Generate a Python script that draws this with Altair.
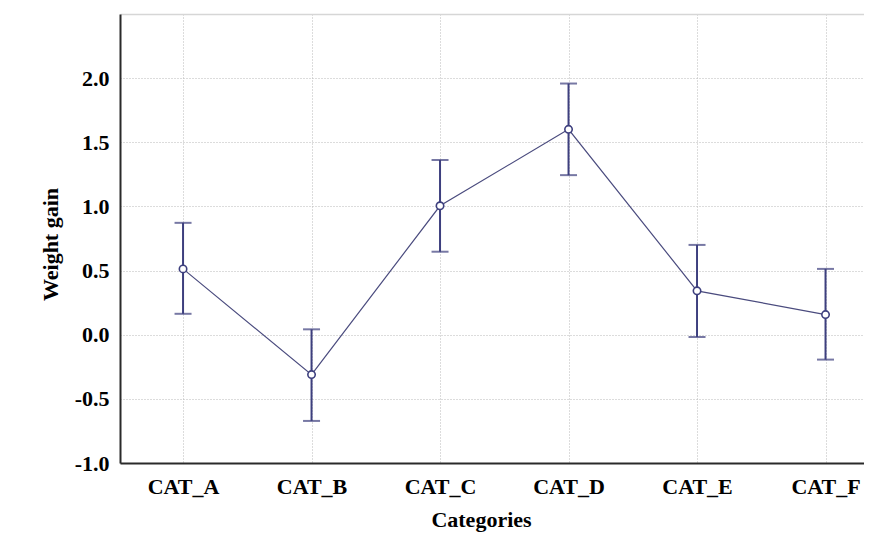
import altair as alt
import pandas as pd

categories = ["CAT_A", "CAT_B", "CAT_C", "CAT_D", "CAT_E", "CAT_F"]
means = [0.513, -0.311, 1.005, 1.601, 0.342, 0.157]
lower = [0.163, -0.672, 0.647, 1.244, -0.018, -0.194]
upper = [0.872, 0.042, 1.362, 1.958, 0.700, 0.513]
y_ticks = [-1.0, -0.5, 0.0, 0.5, 1.0, 1.5, 2.0]

df = pd.DataFrame({"cat": categories, "mean": means, "lo": lower, "hi": upper})

navy = "#3d3f7e"
font = "Liberation Serif"

x_scale = alt.Scale(type="point", padding=0.395, align=0.621)
x_axis = alt.Axis(
    labelAngle=0, grid=True, ticks=False, labelPadding=13,
    titleX=361, titlePadding=12,
)
x_top_axis = alt.Axis(
    orient="top", labels=False, ticks=False, grid=False, title=None,
    domainColor="#d6d6d6", domainWidth=1.5,
)
y_scale = alt.Scale(domain=[-1.0, 2.5], nice=False, zero=False)
y_axis = alt.Axis(
    values=y_ticks, grid=True, ticks=False, labelPadding=11, titlePadding=12,
    titleY=230,
    labelExpr="datum.value < 0 ? '-' + format(-datum.value, '.1f') : format(datum.value, '.1f')",
)

base = alt.Chart(df)

line = base.mark_line(color="#4a4b7e", strokeWidth=1.2).encode(
    x=alt.X("cat:N", sort=categories, title="Categories", scale=x_scale, axis=x_axis),
    y=alt.Y("mean:Q", scale=y_scale, axis=y_axis, title="Weight gain"),
)
bars = base.mark_rule(color=navy, strokeWidth=2).encode(
    x=alt.X("cat:N", sort=categories, axis=None), y="lo:Q", y2="hi:Q"
)
cap_lo = base.mark_tick(color=navy, thickness=2, size=17, orient="horizontal").encode(
    x=alt.X("cat:N", sort=categories, axis=None), y="lo:Q"
)
cap_hi = base.mark_tick(color=navy, thickness=2, size=17, orient="horizontal").encode(
    x=alt.X("cat:N", sort=categories, axis=None), y="hi:Q"
)
pts = base.mark_point(filled=True, fill="white", stroke=navy, strokeWidth=1.6, size=55, opacity=1).encode(
    x=alt.X("cat:N", sort=categories, axis=x_top_axis), y="mean:Q"
)

chart = (
    alt.layer(line, bars, cap_lo, cap_hi, pts)
    .resolve_axis(x="independent")
    .properties(
        width=744, height=449,
        autosize=alt.AutoSizeParams(type="none"),
        padding={"left": 112, "top": 6, "right": 0, "bottom": 70},
        background="white",
    )
    .configure_view(stroke=None)
    .configure_axis(
        domainColor="#2a2a2a", domainWidth=2,
        gridColor="#b8b8b8", gridDash=[1, 2], gridWidth=1,
        labelFont=font, labelFontWeight="bold", labelFontSize=22, labelColor="black",
        titleFont=font, titleFontWeight="bold", titleFontSize=22, titleColor="black",
    )
)

chart.save("out.html", embed_options={"renderer": "svg", "actions": False})
